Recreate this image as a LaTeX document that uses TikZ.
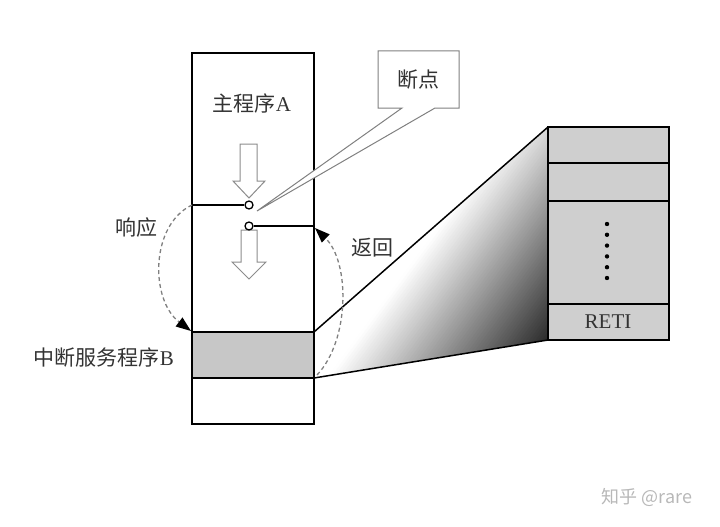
\documentclass[tikz,border=0pt]{standalone}
\usepackage{fontspec}
\setmainfont{Liberation Serif}
\newfontfamily\cjk{Noto Sans CJK SC}
\usetikzlibrary{arrows.meta}
\tikzset{
  frame/.style={draw=black, line width=1.5pt},
  hollowarrow/.style={draw=black!45, line width=1pt, fill=white},
  dasharc/.style={draw=black!50, line width=1.3pt, dash pattern=on 4pt off 3pt,
    -{Triangle[length=15pt,width=11pt,color=black]}},
  lab/.style={text=black!80, font=\fontsize{21}{23}\selectfont, inner sep=0pt},
  knob/.style={circle, draw=black, line width=1.3pt, fill=white, minimum size=8pt, inner sep=0pt},
}
\begin{document}
\begin{tikzpicture}[x=1pt,y=-1pt]
\useasboundingbox (0,0) rectangle (720,527);
% corner coordinates
\coordinate (mTL) at (192,53);
\coordinate (mTR) at (314,53);
\coordinate (mBL) at (192,424);
\coordinate (mBR) at (314,424);
\coordinate (gTL) at (192,332);
\coordinate (gTR) at (314,332);
\coordinate (gBL) at (192,378);
\coordinate (gBR) at (314,378);
\coordinate (rTL) at (548,127);
\coordinate (rTR) at (669,127);
\coordinate (rBL) at (548,340);
\coordinate (rBR) at (669,340);
% gradient wedge (strips across a diagonal axis)
\begin{scope}
\clip (gTR) -- (rTL) -- (rBL) -- (gBR) -- cycle;
\foreach \i in {0,...,84} {
  \pgfmathsetmacro\va{440+\i*2.5}
  \pgfmathsetmacro\vb{\va+3.2}
  \pgfmathsetmacro\kk{max(0,min(86,1.37*(\va+1.25-488)/2.55))}
  \fill[black!\kk]
    ({0.805*\va+178.2},{0.594*\va-241.5}) -- ({0.805*\vb+178.2},{0.594*\vb-241.5})
    -- ({0.805*\vb-178.2},{0.594*\vb+241.5}) -- ({0.805*\va-178.2},{0.594*\va+241.5}) -- cycle;
}
\end{scope}
\draw[line width=1.5pt] (gTR) -- (rTL);
\draw[line width=1.5pt] (gBR) -- (rBL);
% main column
\fill[black!22] (gTL) rectangle (gBR);
\draw[frame] (mTL) rectangle (mBR);
\draw[frame] (gTL) -- (gTR);
\draw[frame] (gBL) -- (gBR);
% right stack
\fill[black!19] (rTL) rectangle (rBR);
\draw[frame] (rTL) rectangle (rBR);
\draw[frame] (548,163) -- (669,163);
\draw[frame] (548,201) -- (669,201);
\draw[frame] (548,304) -- (669,304);
\foreach \i in {0,...,5} \fill (607,224+\i*10.8) circle (2.2pt);
\node[lab] (reti) at (608,322) {RETI};
% hollow arrows
\draw[hollowarrow] (240,144) -- (257,144) -- (257,181) -- (265,181) -- (249,198)
  -- (233,181) -- (240,181) -- cycle;
\draw[hollowarrow] (241,230) -- (257,230) -- (257,262) -- (266,262) -- (249,279)
  -- (232,262) -- (241,262) -- cycle;
% breakpoint
\node[knob] (k1) at (249,205) {};
\node[knob] (k2) at (249,226) {};
\coordinate (lL) at (192,205);
\coordinate (lR) at (314,226);
\draw[line width=1.5pt] (lL) -- (k1);
\draw[line width=1.5pt] (k2) -- (lR);
% callout
\draw[draw=black!50, line width=1pt, fill=white]
  (378,51) -- (459,51) -- (459,108) -- (435,108) -- (257,211) -- (402,108) -- (378,108) -- cycle;
\node[lab] (bp) at (418,80) {\cjk 断点};
% labels
\node[lab] (mainA) at (252,103) {{\cjk 主程序}A};
\node[lab] (isrB) at (104,358) {{\cjk 中断服务程序}B};
\node[lab] (resp) at (136,228) {\cjk 响应};
\node[lab] (ret) at (372,248) {\cjk 返回};
% dashed arcs
\coordinate (a1) at (191,331);
\coordinate (a2s) at (317,375);
\coordinate (a2) at (315,228);
\draw[dasharc] (lL) .. controls (150,225) and (150,300) .. (a1);
\draw[dasharc] (a2s) .. controls (350,340) and (350,262) .. (a2);
% watermark
\node[text=black!28, font=\cjk\fontsize{18}{20}\selectfont, inner sep=0pt] (wm) at (647,497) {知乎 @rare};
\end{tikzpicture}
\end{document}
